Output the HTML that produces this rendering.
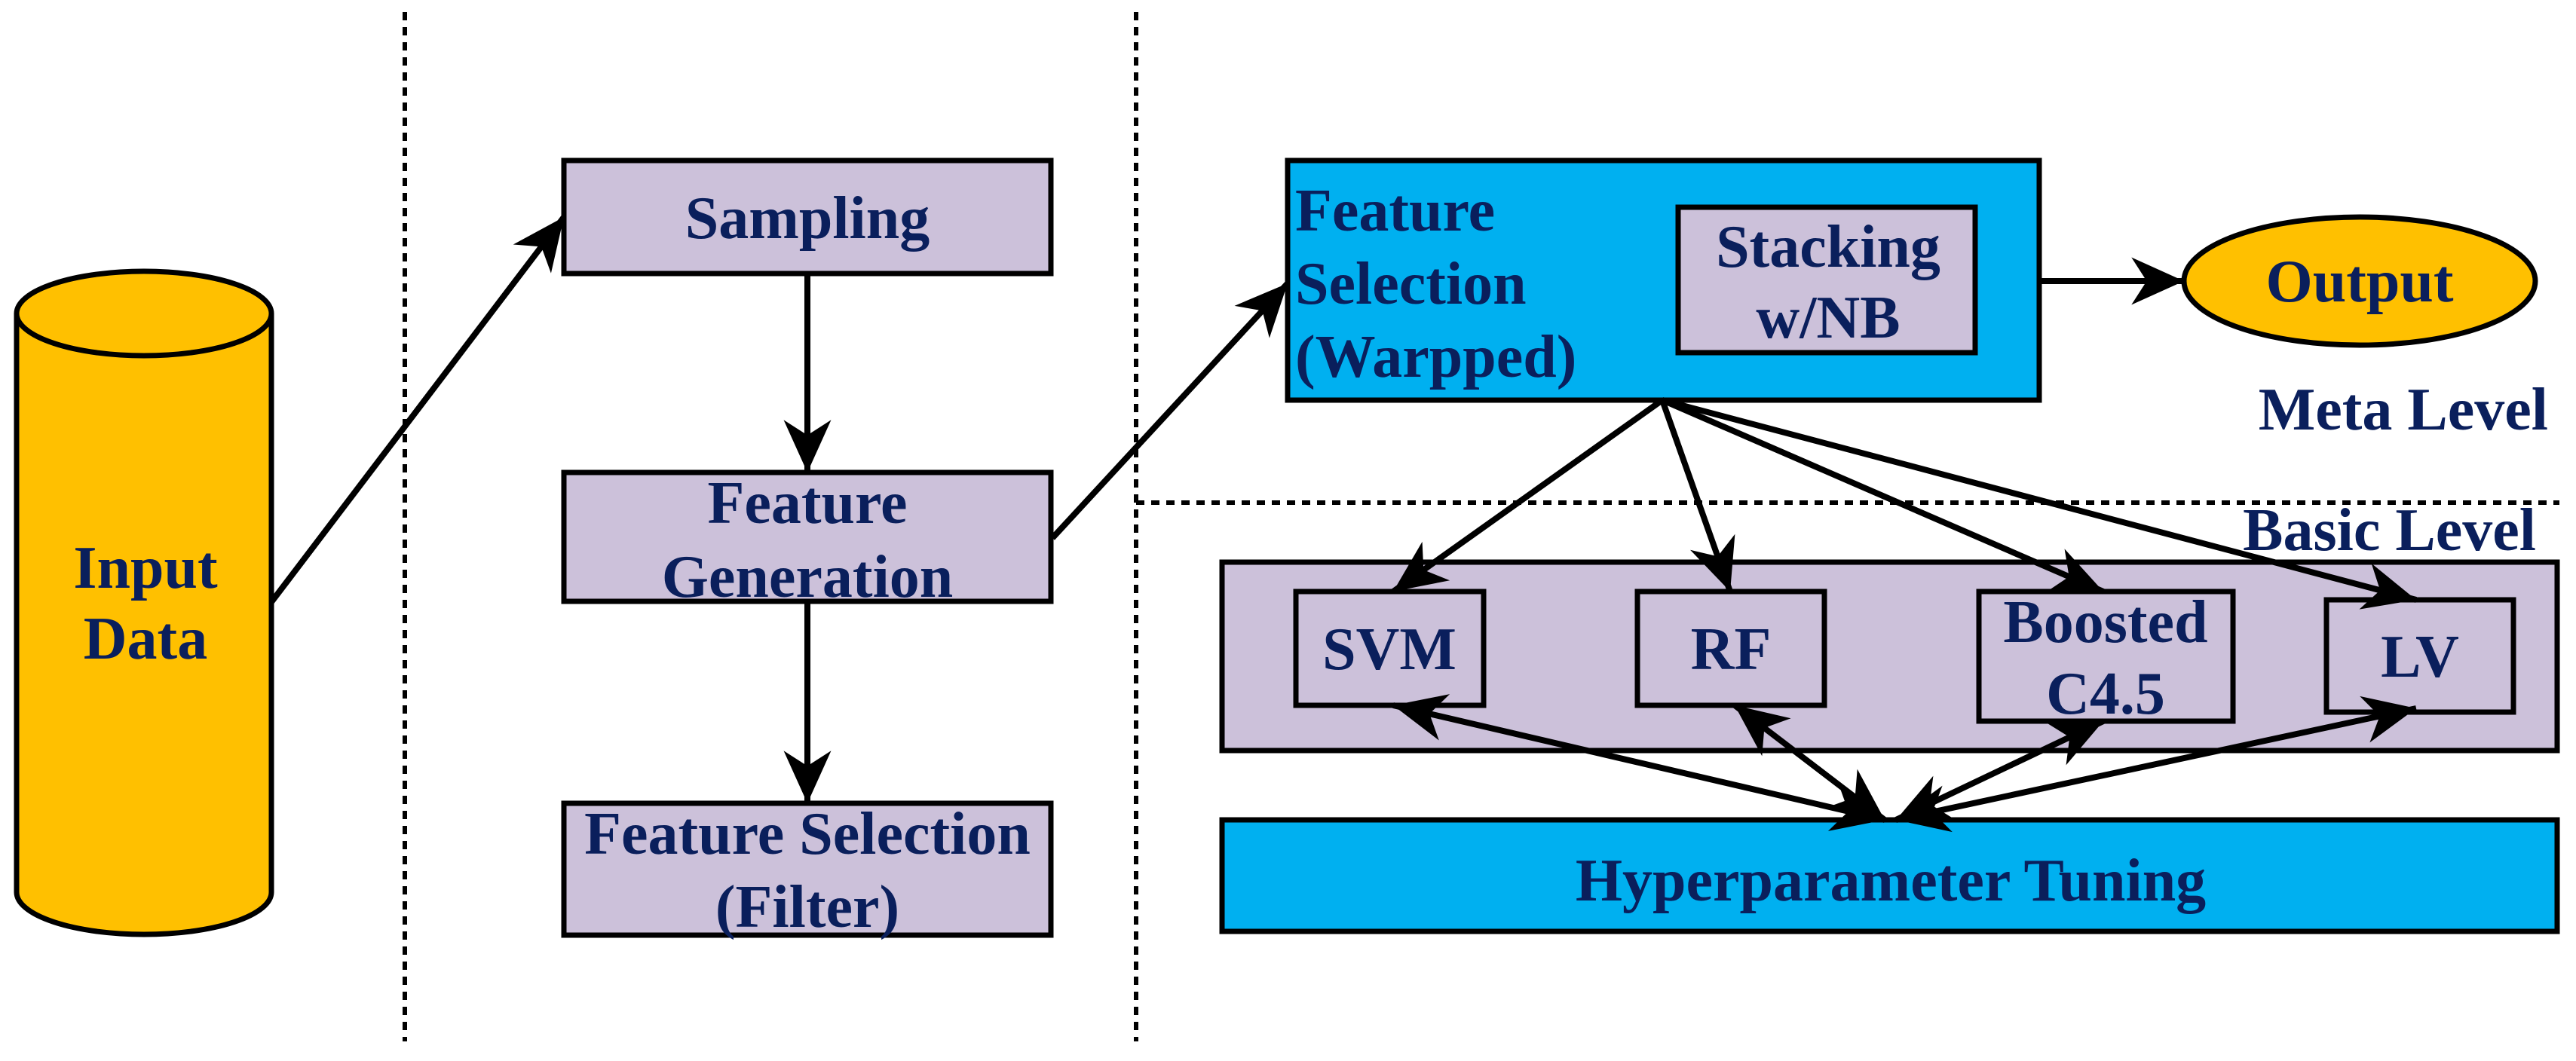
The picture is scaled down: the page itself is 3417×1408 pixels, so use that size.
<!DOCTYPE html>
<html><head><meta charset="utf-8"><style>
html,body{margin:0;padding:0;background:#fff;}
svg{display:block;}
text{font-family:"Liberation Serif",serif;font-weight:bold;fill:#0a1f5c;font-size:80px;}
</style></head><body>
<svg width="3417" height="1408" viewBox="0 0 3417 1408" xmlns="http://www.w3.org/2000/svg">
<defs>
<marker id="ah" markerUnits="userSpaceOnUse" markerWidth="90" markerHeight="90" viewBox="-70 -35 80 70" refX="0" refY="0" orient="auto-start-reverse">
<path d="M0,0 L-62,-28 L-44,0 L-62,28 Z" fill="#000"/>
</marker>
</defs>
<g stroke="#000" stroke-width="6" stroke-dasharray="11,9" fill="none">
<line x1="537" y1="16" x2="537" y2="1382"/>
<line x1="1507" y1="16" x2="1507" y2="1382"/>
<line x1="1507" y1="667" x2="3395" y2="667"/>
</g>
<!-- cylinder -->
<path d="M22,416 L22,1184 A169,56 0 0 0 360,1184 L360,416" fill="#FFC000" stroke="#000" stroke-width="7"/>
<ellipse cx="191" cy="416" rx="169" ry="56" fill="#FFC000" stroke="#000" stroke-width="7"/>
<text x="193" y="780" text-anchor="middle">Input</text>
<text x="193" y="874" text-anchor="middle">Data</text>
<!-- middle boxes -->
<g fill="#CCC1DA" stroke="#000" stroke-width="7">
<rect x="748" y="213" width="646" height="150"/>
<rect x="748" y="627" width="646" height="171"/>
<rect x="748" y="1066" width="646" height="175"/>
</g>
<text x="1071" y="316" text-anchor="middle">Sampling</text>
<text x="1071" y="694" text-anchor="middle">Feature</text>
<text x="1071" y="792" text-anchor="middle">Generation</text>
<text x="1071" y="1133" text-anchor="middle">Feature Selection</text>
<text x="1071" y="1230" text-anchor="middle">(Filter)</text>
<!-- right -->
<rect x="1708" y="213" width="997" height="318" fill="#00B0F0" stroke="#000" stroke-width="7"/>
<rect x="2226" y="275" width="394" height="193" fill="#CCC1DA" stroke="#000" stroke-width="7"/>
<text x="1718" y="306">Feature</text>
<text x="1718" y="403">Selection</text>
<text x="1718" y="500">(Warpped)</text>
<text x="2425" y="354" text-anchor="middle">Stacking</text>
<text x="2425" y="448" text-anchor="middle">w/NB</text>
<ellipse cx="3130" cy="373" rx="233" ry="85" fill="#FFC000" stroke="#000" stroke-width="7"/>
<text x="3130" y="400" text-anchor="middle">Output</text>
<text x="3380" y="570" text-anchor="end">Meta Level</text>
<text x="3364" y="730" text-anchor="end">Basic Level</text>
<rect x="1621" y="746" width="1771" height="250" fill="#CCC1DA" stroke="#000" stroke-width="7"/>
<g fill="#CCC1DA" stroke="#000" stroke-width="7">
<rect x="1719" y="785" width="249" height="151"/>
<rect x="2172" y="785" width="248" height="151"/>
<rect x="2625" y="785" width="337" height="172"/>
<rect x="3086" y="796" width="248" height="149"/>
</g>
<text x="1843" y="888" text-anchor="middle">SVM</text>
<text x="2296" y="888" text-anchor="middle">RF</text>
<text x="2793" y="852" text-anchor="middle">Boosted</text>
<text x="2793" y="947" text-anchor="middle">C4.5</text>
<text x="3210" y="898" text-anchor="middle">LV</text>
<rect x="1621" y="1088" width="1771" height="148" fill="#00B0F0" stroke="#000" stroke-width="7"/>
<text x="2508" y="1195" text-anchor="middle">Hyperparameter Tuning</text>
<!-- arrows -->
<g stroke="#000" stroke-width="8" fill="none">
<line x1="360" y1="799" x2="748" y2="288" marker-end="url(#ah)"/>
<line x1="1071" y1="363" x2="1071" y2="627" marker-end="url(#ah)"/>
<line x1="1071" y1="798" x2="1071" y2="1066" marker-end="url(#ah)"/>
<line x1="1396" y1="714" x2="1708" y2="376" marker-end="url(#ah)"/>
<line x1="2705" y1="373" x2="2897" y2="373" marker-end="url(#ah)"/>
<line x1="2205" y1="531" x2="1848" y2="785" marker-end="url(#ah)"/>
<line x1="2205" y1="531" x2="2295" y2="785" marker-end="url(#ah)"/>
<line x1="2205" y1="531" x2="2790" y2="785" marker-end="url(#ah)"/>
<line x1="2205" y1="531" x2="3205" y2="796" marker-end="url(#ah)"/>
<line x1="1848" y1="936" x2="2500" y2="1088" marker-start="url(#ah)" marker-end="url(#ah)"/>
<line x1="2301" y1="936" x2="2500" y2="1088" marker-start="url(#ah)" marker-end="url(#ah)"/>
<line x1="2790" y1="957" x2="2515" y2="1088" marker-start="url(#ah)" marker-end="url(#ah)"/>
<line x1="3205" y1="940" x2="2515" y2="1088" marker-start="url(#ah)" marker-end="url(#ah)"/>
</g>
</svg>
</body></html>
